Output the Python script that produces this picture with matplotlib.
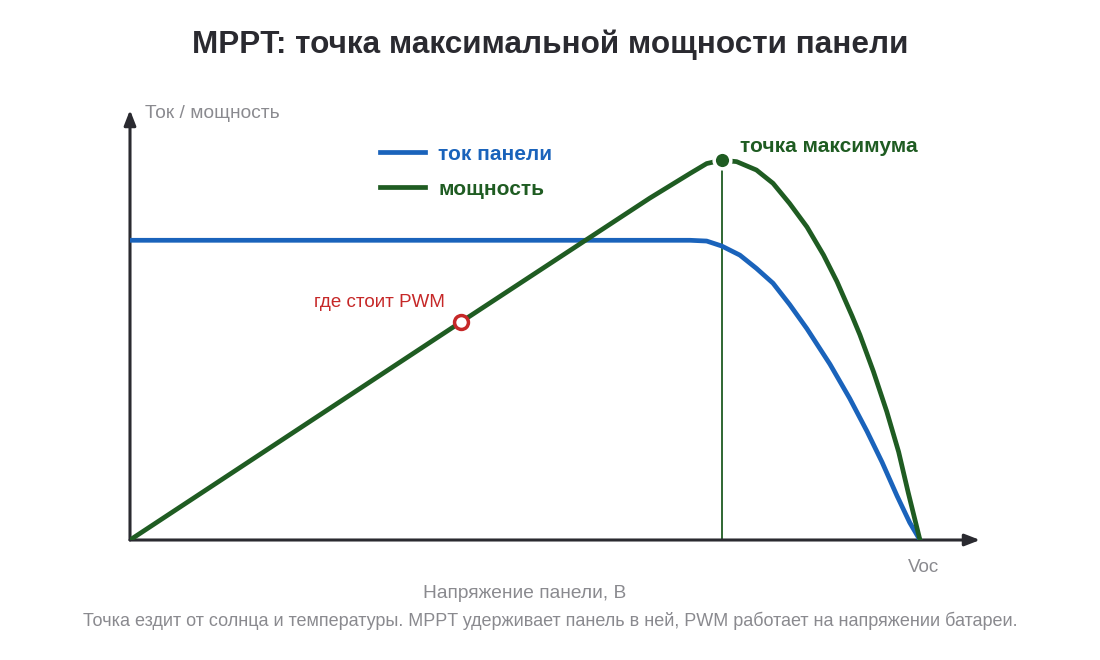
import matplotlib.pyplot as plt

plt.rcParams['font.family'] = ['Liberation Sans', 'DejaVu Sans']

# voltage as % of Voc
volt_current = [0, 70.9, 73.0, 74.9, 77.2, 79.3, 81.4, 83.5, 85.7, 88.6, 91.1, 93.3, 95.2, 97.1, 98.7, 100]
current = [78.9, 78.9, 78.7, 77.4, 75.0, 71.5, 67.6, 62.0, 55.6, 46.3, 37.3, 28.6, 20.5, 11.6, 4.6, 0]

volt_power = [0, 41.9, 65.8, 70.9, 73.0, 74.9, 76.8, 79.3, 81.4, 83.5, 85.7, 87.8, 89.5,
              91.4, 92.4, 94.1, 95.8, 97.3, 98.5, 100]
power = [0, 57.4, 90.0, 96.5, 99.1, 100, 99.6, 97.4, 93.9, 88.6, 82.4, 75.0, 68.0,
         59.0, 54.0, 44.4, 33.8, 23.2, 12.6, 0]

mpp_v, mpp_p = 74.9, 100
pwm_v, pwm_p = 41.9, 57.4

BLUE = '#1a63bb'
GREEN = '#1f5c22'
RED = '#c62828'
GRAY = '#8a8a8f'
DARK = '#2a2a30'

fig = plt.figure(figsize=(11, 6.6), dpi=100)
ax = fig.add_axes([130 / 1100, 120 / 660, 850 / 1100, 430 / 660])
ax.set_xlim(0, 107.6)
ax.set_ylim(0, 113.2)
ax.axis('off')

# axes with arrows
arrow = dict(arrowstyle='-|>,head_length=0.9,head_width=0.35', color=DARK, lw=2.2, shrinkA=0, shrinkB=0)
ax.annotate('', xy=(107.6, 0), xytext=(0, 0), arrowprops=arrow)
ax.annotate('', xy=(0, 113.2), xytext=(0, 0), arrowprops=arrow)

ax.plot([mpp_v, mpp_v], [0, mpp_p], color=GREEN, lw=1.3, zorder=2)
ax.plot(volt_current, current, color=BLUE, lw=3.4, solid_capstyle='round', solid_joinstyle='round', zorder=3)
ax.plot(volt_power, power, color=GREEN, lw=3.4, solid_capstyle='round', solid_joinstyle='round', zorder=3)

ax.plot(mpp_v, mpp_p, 'o', ms=12, mfc=GREEN, mec='white', mew=2.5, zorder=5)
ax.plot(pwm_v, pwm_p, 'o', ms=10, mfc='white', mec=RED, mew=2.5, zorder=5)

ax.text(mpp_v + 2.3, 103.6, 'точка максимума', color=GREEN, fontsize=15, fontweight='bold', va='center')
ax.text(pwm_v - 2.0, 62.6, 'где стоит PWM', color=RED, fontsize=13.5, ha='right', va='center')

# legend drawn by hand
for (label, color, yl) in [('ток панели', BLUE, 102.1), ('мощность', GREEN, 92.9)]:
    ax.plot([31.6, 37.3], [yl, yl], color=color, lw=3.4)
    ax.text(39.0, yl - 0.5, label, color=color, fontsize=15, fontweight='bold', va='center')

fig.text(145 / 1100, 1 - 114 / 660, 'Ток / мощность', color=GRAY, fontsize=13.8, va='center')
fig.text(924 / 1100, 1 - 567 / 660, 'Voc', color=GRAY, fontsize=13.5, ha='center', va='center')
fig.text(525 / 1100, 1 - 593 / 660, 'Напряжение панели, В', color=GRAY, fontsize=13.8, ha='center', va='center')
fig.text(550 / 1100, 1 - 621 / 660,
         'Точка ездит от солнца и температуры. MPPT удерживает панель в ней, PWM работает на напряжении батареи.',
         color=GRAY, fontsize=13, ha='center', va='center')
fig.text(550 / 1100, 1 - 45 / 660, 'MPPT: точка максимальной мощности панели',
         color=DARK, fontsize=22.7, fontweight='bold', ha='center', va='center')

fig.savefig('out.png', dpi=100, facecolor='white')
